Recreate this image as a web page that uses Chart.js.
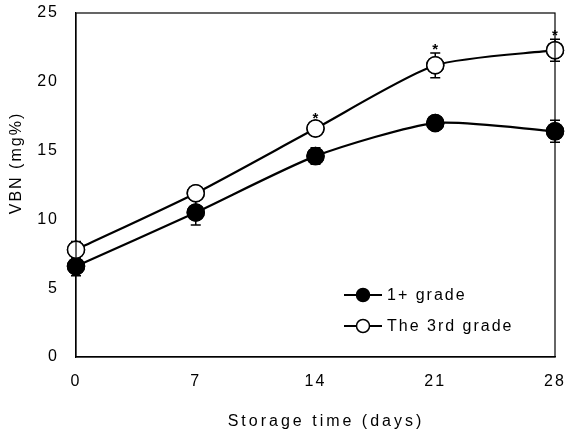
<!DOCTYPE html>
<html><head><meta charset="utf-8">
<script src="https://cdn.jsdelivr.net/npm/chart.js@4"></script>
<style>html,body{margin:0;padding:0;background:#fff}</style>
</head><body>
<canvas id="c" width="569" height="436" style="width:569px;height:436px"></canvas>
<script>
const days = [0, 7, 14, 21, 28];
const grade1Label = "1+ grade";
const grade1Values = [6.6, 10.5, 14.6, 17.0, 16.4];
const grade1Errors = [0.7, 0.9, 0.6, 0.2, 0.8];
const grade3Label = "The 3rd grade";
const grade3Values = [7.8, 11.9, 16.6, 21.2, 22.3];
const grade3Errors = [0.6, 0.3, 0.5, 0.9, 0.8];
const grade3Significant = [false, false, true, true, true];
const xTicks = [0, 7, 14, 21, 28];
const yTicks = [0, 5, 10, 15, 20, 25];
const xTitle = "Storage time (days)";
const yTitle = "VBN (mg%)";

const FONT = "'Liberation Sans', Arial, sans-serif";
const SPACING = '2px';

function pts(vals) { return days.map((d, i) => ({ x: d, y: vals[i] })); }

const setSpacing = {
  id: 'spacing',
  beforeLayout(chart) { chart.ctx.letterSpacing = SPACING; },
  beforeDraw(chart) { chart.ctx.letterSpacing = SPACING; }
};

const decor = {
  id: 'decor',
  afterDatasetsDraw(chart) {
    const ctx = chart.ctx, xs = chart.scales.x, ys = chart.scales.y, a = chart.chartArea;
    ctx.save();
    ctx.letterSpacing = '0px';
    const sets = [[grade1Values, grade1Errors], [grade3Values, grade3Errors]];
    ctx.strokeStyle = '#000'; ctx.lineWidth = 1.5;
    sets.forEach(([vals, errs]) => {
      days.forEach((d, i) => {
        const px = xs.getPixelForValue(d);
        const yt = ys.getPixelForValue(vals[i] + errs[i]);
        const yb = ys.getPixelForValue(vals[i] - errs[i]);
        ctx.beginPath();
        ctx.moveTo(px, yt); ctx.lineTo(px, yb);
        ctx.moveTo(px - 5, yt); ctx.lineTo(px + 5, yt);
        ctx.moveTo(px - 5, yb); ctx.lineTo(px + 5, yb);
        ctx.stroke();
      });
    });
    chart.getSortedVisibleDatasetMetas().forEach(m => {
      m.data.forEach(el => el.draw(ctx, undefined));
    });
    ctx.fillStyle = '#000';
    ctx.font = "bold 15px " + FONT;
    ctx.textAlign = 'center'; ctx.textBaseline = 'alphabetic';
    days.forEach((d, i) => {
      if (!grade3Significant[i]) return;
      const px = xs.getPixelForValue(d);
      const yt = ys.getPixelForValue(grade3Values[i] + grade3Errors[i]);
      ctx.fillText('*', px, yt + 1);
    });
    ctx.lineWidth = 1.2;
    ctx.strokeRect(a.left, a.top, a.right - a.left, a.bottom - a.top);
    // x title
    ctx.font = "16px " + FONT;
    ctx.letterSpacing = '3px';
    ctx.textAlign = 'center'; ctx.textBaseline = 'middle';
    ctx.fillText(xTitle, 326, 422);
    // y title
    ctx.letterSpacing = SPACING;
    ctx.save();
    ctx.translate(17, 163);
    ctx.rotate(-Math.PI / 2);
    ctx.textAlign = 'center'; ctx.textBaseline = 'middle';
    ctx.fillText(yTitle, 0, 0);
    ctx.restore();
    // legend
    ctx.textAlign = 'left'; ctx.textBaseline = 'middle';
    const rows = [[grade1Label, '#000', 295], [grade3Label, '#fff', 326]];
    rows.forEach(([lab, fill, y]) => {
      ctx.lineWidth = 2;
      ctx.beginPath(); ctx.moveTo(344, y); ctx.lineTo(382, y); ctx.stroke();
      ctx.beginPath(); ctx.arc(363, y, 6.5, 0, Math.PI * 2);
      ctx.fillStyle = fill; ctx.fill(); ctx.lineWidth = 1.5; ctx.stroke();
      ctx.fillStyle = '#000';
      ctx.fillText(lab, 387, y + 1);
    });
    ctx.restore();
  }
};

new Chart(document.getElementById('c'), {
  type: 'line',
  data: {
    datasets: [
      { label: grade1Label, data: pts(grade1Values), borderColor: '#000', backgroundColor: '#000',
        pointBackgroundColor: '#000', pointBorderColor: '#000', pointRadius: 8.5, pointBorderWidth: 1.5,
        borderWidth: 2.2, tension: 0.22, clip: false },
      { label: grade3Label, data: pts(grade3Values), borderColor: '#000', backgroundColor: '#fff',
        pointBackgroundColor: '#fff', pointBorderColor: '#000', pointRadius: 8.5, pointBorderWidth: 1.5,
        borderWidth: 2.2, tension: 0.22, clip: false }
    ]
  },
  options: {
    responsive: false, animation: false, devicePixelRatio: 1,
    layout: { padding: { top: 13, right: 14, left: 0, bottom: 0 } },
    plugins: { legend: { display: false }, tooltip: { enabled: false } },
    scales: {
      x: {
        type: 'linear', min: 0, max: 28,
        afterBuildTicks(s) { s.ticks = xTicks.map(v => ({ value: v })); },
        afterFit(s) { s.height = 79; s.paddingLeft = 0; s.paddingRight = 0; },
        grid: { display: false, drawTicks: false },
        border: { display: true, color: '#000', width: 1.2 },
        ticks: { color: '#000', font: { size: 16, family: FONT }, padding: 15, maxRotation: 0 },
        title: { display: false }
      },
      y: {
        min: 0, max: 25,
        afterBuildTicks(s) { s.ticks = yTicks.map(v => ({ value: v })); },
        afterFit(s) { s.width = 76; s.paddingTop = 0; s.paddingBottom = 0; },
        grid: { display: false, drawTicks: false },
        border: { display: true, color: '#000', width: 1.2 },
        ticks: { color: '#000', font: { size: 16, family: FONT }, padding: 17 },
        title: { display: false }
      }
    }
  },
  plugins: [setSpacing, decor]
});
</script>
</body></html>
